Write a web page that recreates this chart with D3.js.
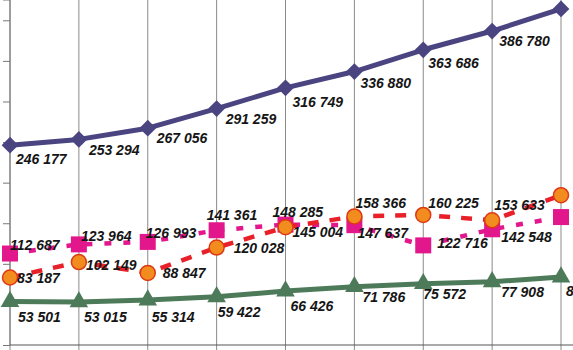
<!DOCTYPE html>
<html>
<head>
<meta charset="utf-8">
<script src="https://cdn.jsdelivr.net/npm/d3@7"></script>
<style>
  body { margin: 0; background: #fff; overflow: hidden; }
  svg { display: block; }
  .lbl { font-family: "Liberation Sans", Arial, sans-serif; font-size: 14px; font-weight: bold; font-style: italic; fill: #151515; }
</style>
</head>
<body>
<svg></svg>
<script>

// categories (axis labels are cut off in the picture)
var categories = ["1", "2", "3", "4", "5", "6", "7", "8", "9"];

// series values
var topSeries    = [246177, 253294, 267056, 291259, 316749, 336880, 363686, 386780, 414000];
var squareSeries = [112687, 123964, 126993, 141361, 148285, 147637, 122716, 142548, 157600];
var circleSeries = [83187, 102149, 88847, 120028, 145004, 158366, 160225, 153633, 184600];
var bottomSeries = [53501, 53015, 55314, 59422, 66426, 71786, 75572, 77908, 83700];

var yTicks = [0, 50000, 100000, 150000, 200000, 250000, 300000, 350000, 400000];

// label nudges [dx, dy] from the point (last ones fall past the right edge, as in the picture)
var topNudge    = [[6,14],[10,11],[9,10],[9,10],[7,14],[6,11],[5,13],[7,10],[14,12]];
var squareNudge = [[0,-9],[2,-8],[-2,-9],[-10,-15],[-13,-13],[3,8],[14,-2],[9,8],[14,8]];
var circleNudge = [[7,0],[7,3],[15,0],[17,0],[7,5],[1,-13],[5,-12],[2,-15],[14,0]];
var bottomNudge = [[8,15],[5,15],[4,17],[1,15],[5,15],[8,10],[0,10],[9,10],[5,14]];

var svgWidth = 573;
var svgHeight = 350;

var svg = d3.select("svg")
    .attr("width", svgWidth)
    .attr("height", svgHeight);

var x = d3.scalePoint()
    .domain(categories)
    .range([10, 561]);

var y = d3.scaleLinear()
    .domain([0, 425000])
    .range([345, 0]);

var fmt = function(v) { return d3.format(",")(v).replace(/,/g, " "); };

// vertical grid lines
svg.append("g").selectAll("line")
    .data(categories)
    .enter()
    .append("line")
    .attr("x1", d => x(d)).attr("x2", d => x(d))
    .attr("y1", 0).attr("y2", 350)
    .attr("stroke", "#8a8a8a")
    .attr("stroke-width", 1);

// left axis
var yAxis = d3.axisLeft(y).tickValues(yTicks).tickSize(7).tickFormat("");
svg.append("g")
    .attr("transform", "translate(10,0)")
    .call(yAxis)
    .call(g => g.selectAll("line").attr("stroke", "#777"))
    .call(g => g.select(".domain").attr("stroke", "#777").attr("d", "M-7,0H0V345"));

// bottom axis
svg.append("line")
    .attr("x1", 10).attr("x2", 573)
    .attr("y1", y(0)).attr("y2", y(0))
    .attr("stroke", "#555");

function drawLine(values, color, width, dash) {
    var line = d3.line()
        .x((d, i) => x(categories[i]))
        .y(d => y(d));
    svg.append("path")
        .datum(values)
        .attr("d", line)
        .attr("fill", "none")
        .attr("stroke", color)
        .attr("stroke-width", width)
        .attr("stroke-dasharray", dash || null)
        .attr("stroke-linejoin", "round");
}

function drawLabels(values, nudge) {
    svg.append("g").selectAll("text")
        .data(values)
        .enter()
        .append("text")
        .attr("class", "lbl")
        .attr("x", (d, i) => x(categories[i]) + nudge[i][0])
        .attr("y", (d, i) => y(d) + nudge[i][1])
        .attr("dy", "0.36em")
        .text(d => fmt(d));
}

// top series (diamonds)
drawLine(topSeries, "#4a4580", 5);
svg.append("g").selectAll("path")
    .data(topSeries)
    .enter()
    .append("path")
    .attr("d", d3.symbol().type(d3.symbolSquare).size(140))
    .attr("transform", (d, i) => "translate(" + x(categories[i]) + "," + y(d) + ") rotate(45)")
    .attr("fill", "#4a4580");

// square series
drawLine(squareSeries, "#e2178c", 4.5, "7,12");
svg.append("g").selectAll("path")
    .data(squareSeries)
    .enter()
    .append("path")
    .attr("d", d3.symbol().type(d3.symbolSquare).size(256))
    .attr("transform", (d, i) => "translate(" + x(categories[i]) + "," + y(d) + ")")
    .attr("fill", "#e2178c");

// circle series
drawLine(circleSeries, "#e8202a", 4.5, "11,11");
svg.append("g").selectAll("circle")
    .data(circleSeries)
    .enter()
    .append("circle")
    .attr("cx", (d, i) => x(categories[i]))
    .attr("cy", d => y(d))
    .attr("r", 7.5)
    .attr("fill", "#f28c1f")
    .attr("stroke", "#dd3a14")
    .attr("stroke-width", 1.5);

// bottom series (triangles)
drawLine(bottomSeries, "#4d7b5a", 5);
svg.append("g").selectAll("path")
    .data(bottomSeries)
    .enter()
    .append("path")
    .attr("d", d3.symbol().type(d3.symbolTriangle).size(150))
    .attr("transform", (d, i) => "translate(" + x(categories[i]) + "," + y(d) + ")")
    .attr("fill", "#4d7b5a");

drawLabels(topSeries, topNudge);
drawLabels(squareSeries, squareNudge);
drawLabels(circleSeries, circleNudge);
drawLabels(bottomSeries, bottomNudge);

</script>
</body>
</html>
